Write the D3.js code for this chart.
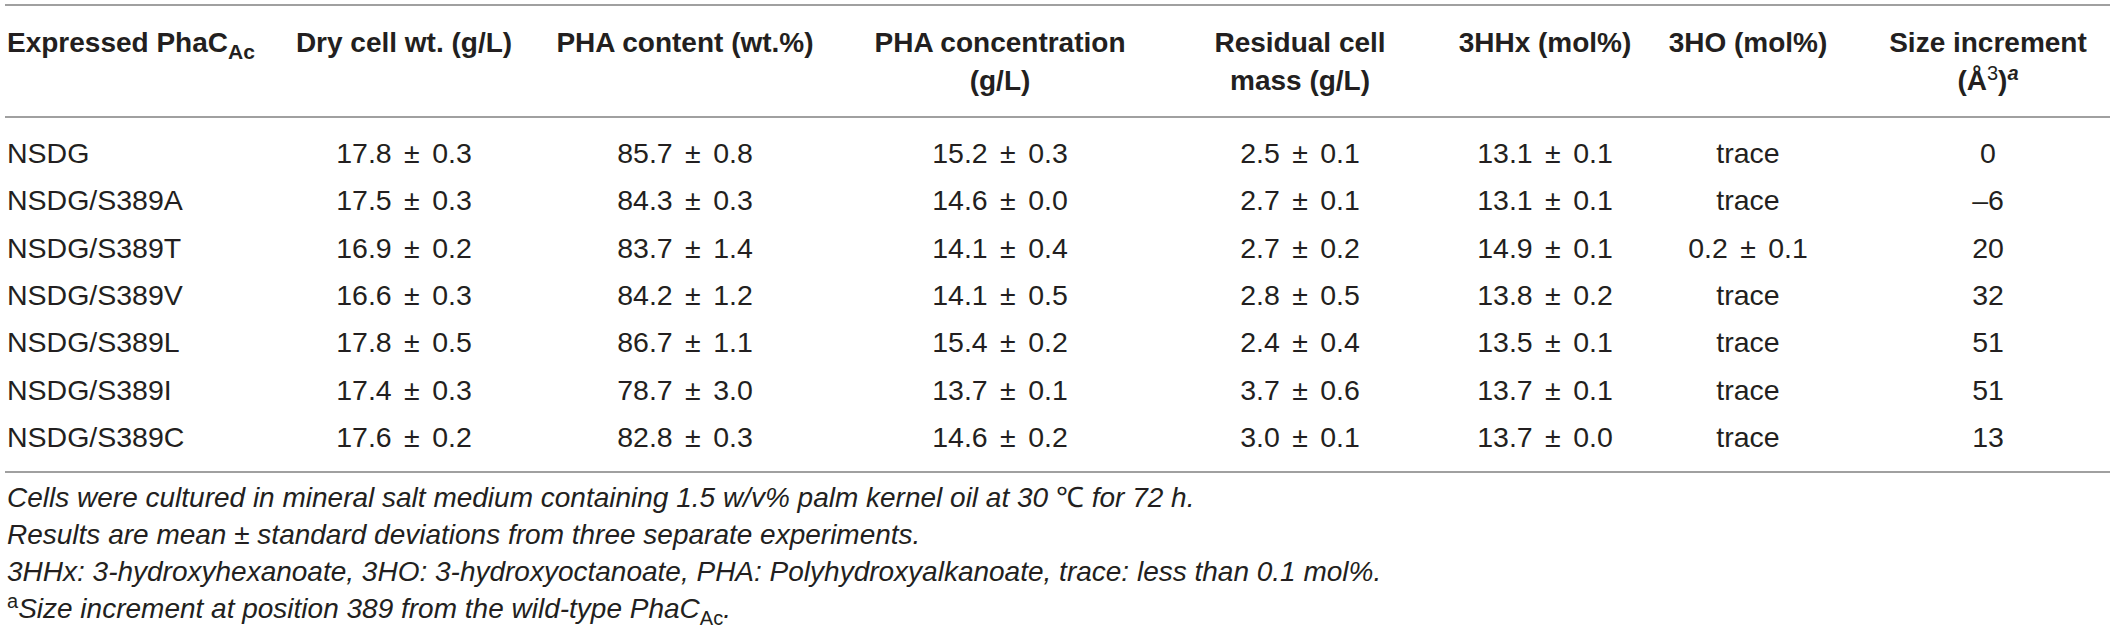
<!DOCTYPE html>
<html>
<head>
<meta charset="utf-8">
<script src="https://cdn.jsdelivr.net/npm/d3@7"></script>
<style>
  body { margin: 0; background: #fff; }
  svg text { font-family: "Liberation Sans", Arial, Helvetica, sans-serif; fill: #231f20; }
</style>
</head>
<body>
<div id="table"></div>
<script>
// table data
let strains = ["NSDG", "NSDG/S389A", "NSDG/S389T", "NSDG/S389V", "NSDG/S389L", "NSDG/S389I", "NSDG/S389C"];
let dcwMean = [17.8, 17.5, 16.9, 16.6, 17.8, 17.4, 17.6];
let dcwSd = [0.3, 0.3, 0.2, 0.3, 0.5, 0.3, 0.2];
let phaContentMean = [85.7, 84.3, 83.7, 84.2, 86.7, 78.7, 82.8];
let phaContentSd = [0.8, 0.3, 1.4, 1.2, 1.1, 3.0, 0.3];
let phaConcMean = [15.2, 14.6, 14.1, 14.1, 15.4, 13.7, 14.6];
let phaConcSd = [0.3, 0.0, 0.4, 0.5, 0.2, 0.1, 0.2];
let residualMean = [2.5, 2.7, 2.7, 2.8, 2.4, 3.7, 3.0];
let residualSd = [0.1, 0.1, 0.2, 0.5, 0.4, 0.6, 0.1];
let hhxMean = [13.1, 13.1, 14.9, 13.8, 13.5, 13.7, 13.7];
let hhxSd = [0.1, 0.1, 0.1, 0.2, 0.1, 0.1, 0.0];
let hoMean = [null, null, 0.2, null, null, null, null];   // null = trace
let hoSd = [null, null, 0.1, null, null, null, null];
let sizeIncrement = [0, -6, 20, 32, 51, 51, 13];

let columns = ["strain", "dcw", "content", "conc", "residual", "hhx", "ho", "size"];
let footnotes = [
  "Cells were cultured in mineral salt medium containing 1.5 w/v% palm kernel oil at 30 ",
  "Results are mean \u00b1 standard deviations from three separate experiments.",
  "3HHx: 3-hydroxyhexanoate, 3HO: 3-hydroxyoctanoate, PHA: Polyhydroxyalkanoate, trace: less than 0.1 mol%.",
  "Size increment at position 389 from the wild-type PhaC"
];

let width = 2117, height = 633;
let f1 = d3.format(".1f");
let pm = (m, s) => f1(m) + " \u00b1 " + f1(s);

let svg = d3.select("#table")
    .append("svg")
    .attr("width", width)
    .attr("height", height);

// column centers (first column is left aligned)
let x = d3.scaleOrdinal()
    .domain(columns)
    .range([7, 404, 685, 1000, 1300, 1545, 1748, 1988]);

// row baselines
let y = d3.scalePoint()
    .domain(strains)
    .range([163, 447]);

// rules
let ruleY = [5, 117, 472];
svg.selectAll("line.rule")
    .data(ruleY)
    .enter()
    .append("line")
    .attr("class", "rule")
    .attr("x1", 5)
    .attr("x2", 2110)
    .attr("y1", d => d)
    .attr("y2", d => d)
    .attr("stroke", "#a0a0a0")
    .attr("stroke-width", 2);

// header
let head = svg.append("g")
    .style("font-weight", "bold")
    .style("font-size", "28px");

let h1 = head.append("text")
    .attr("x", x("strain"))
    .attr("y", 52);
h1.append("tspan").text("Expressed PhaC");
h1.append("tspan").attr("dy", 7).style("font-size", "21px").text("Ac");

let headLines = [
  ["dcw", ["Dry cell wt. (g/L)"]],
  ["content", ["PHA content (wt.%)"]],
  ["conc", ["PHA concentration", "(g/L)"]],
  ["residual", ["Residual cell", "mass (g/L)"]],
  ["hhx", ["3HHx (mol%)"]],
  ["ho", ["3HO (mol%)"]],
  ["size", ["Size increment"]]
];
headLines.forEach(([key, lines]) => {
  lines.forEach((t, i) => {
    head.append("text")
        .attr("x", x(key))
        .attr("y", 52 + i * 38)
        .attr("text-anchor", "middle")
        .text(t);
  });
});
// (Å³)ª
let hs = head.append("text")
    .attr("x", x("size"))
    .attr("y", 90)
    .attr("text-anchor", "middle");
hs.append("tspan").text("(\u00c5");
hs.append("tspan").attr("dy", -10).style("font-size", "20px").style("font-weight", "normal").text("3");
hs.append("tspan").attr("dy", 10).text(")");
hs.append("tspan").attr("dy", -10).style("font-size", "20px").style("font-style", "italic").text("a");

// body rows
let rows = strains.map((s, i) => ({
  strain: s,
  dcw: pm(dcwMean[i], dcwSd[i]),
  content: pm(phaContentMean[i], phaContentSd[i]),
  conc: pm(phaConcMean[i], phaConcSd[i]),
  residual: pm(residualMean[i], residualSd[i]),
  hhx: pm(hhxMean[i], hhxSd[i]),
  ho: hoMean[i] == null ? "trace" : pm(hoMean[i], hoSd[i]),
  size: d3.format("d")(sizeIncrement[i]).replace("\u2212", "\u2013")
}));

let body = svg.append("g")
    .style("font-size", "28.5px")
    .style("word-spacing", "4.5px");
let rowG = body.selectAll("g.row")
    .data(rows)
    .enter()
    .append("g")
    .attr("class", "row")
    .attr("transform", d => "translate(0," + y(d.strain) + ")");

rowG.selectAll("text")
    .data(d => columns.map(c => ({ key: c, value: d[c] })))
    .enter()
    .append("text")
    .attr("x", d => x(d.key))
    .attr("text-anchor", d => d.key == "strain" ? "start" : "middle")
    .style("word-spacing", d => d.key == "strain" ? "0px" : null)
    .text(d => d.value);

// footnotes
let foot = svg.append("g")
    .style("font-size", "28px")
    .style("font-style", "italic");
let fy = d3.scaleLinear().domain([0, 3]).range([507, 618]);

let t0 = foot.append("text").attr("x", 7).attr("y", fy(0));
t0.append("tspan").text(footnotes[0]);
t0.append("tspan").style("font-style", "normal").text("\u2103");
t0.append("tspan").text(" for 72 h.");

foot.append("text").attr("x", 7).attr("y", fy(1)).text(footnotes[1]);
foot.append("text").attr("x", 7).attr("y", fy(2)).text(footnotes[2]);

let t3 = foot.append("text").attr("x", 7).attr("y", fy(3));
t3.append("tspan").attr("dy", -10).style("font-style", "normal").style("font-size", "20px").text("a");
t3.append("tspan").attr("dy", 10).text(footnotes[3]);
t3.append("tspan").attr("dy", 7).style("font-style", "normal").style("font-size", "20px").text("Ac");
t3.append("tspan").attr("dy", -7).text(".");
</script>
</body>
</html>
